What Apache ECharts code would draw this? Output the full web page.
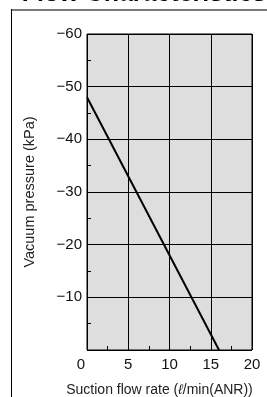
<!DOCTYPE html>
<html>
<head>
<meta charset="utf-8">
<script src="https://cdn.jsdelivr.net/npm/echarts@6/dist/echarts.min.js"></script>
<style>
html, body { margin: 0; padding: 0; background: #fff; }
#chart { width: 267px; height: 397px; }
</style>
</head>
<body>
<div id="chart"></div>
<script>
// data
var flowRate = [0, 16];        // l/min(ANR)
var pressure = [-48, 0];       // kPa
var xTicks = [0, 5, 10, 15, 20];
var yTicks = [-60, -50, -40, -30, -20, -10, 0];

var points = flowRate.map(function (x, i) { return [x, pressure[i]]; });

var dom = document.getElementById('chart');
var myChart = echarts.init(dom);

var option = {
    animation: false,
    title: {
        text: 'Flow Characteristics',
        left: 139,
        textAlign: 'center',
        top: -23,
        textStyle: { fontFamily: 'Liberation Sans', fontWeight: 'bold', fontSize: 25, color: '#000' }
    },
    // frame around the figure
    graphic: [
        { type: 'line', shape: { x1: 11, y1: 10, x2: 267, y2: 10 }, style: { stroke: '#7a7a7a', lineWidth: 2 } },
        { type: 'line', shape: { x1: 11.5, y1: 9, x2: 11.5, y2: 397 }, style: { stroke: '#000', lineWidth: 1 } }
    ],
    grid: {
        left: 87, top: 34, right: 15, bottom: 47,
        outerBoundsMode: 'none',
        show: true, backgroundColor: '#dedede', borderColor: '#000', borderWidth: 1
    },
    xAxis: {
        type: 'value',
        min: xTicks[0], max: xTicks[xTicks.length - 1], interval: 5,
        name: '{a|Suction flow rate (}{i|ℓ}{a|/min(ANR))}',
        nameLocation: 'middle',
        nameGap: 33,
        nameTextStyle: {
            padding: [0, 20, 0, 0],
            rich: {
                a: { fontFamily: 'Liberation Sans', fontSize: 14, color: '#222' },
                i: { fontFamily: 'Liberation Sans', fontSize: 14, color: '#222', fontStyle: 'italic' }
            }
        },
        axisLine: { show: false },
        axisTick: { show: false, inside: true },
        minorTick: { show: true, splitNumber: 2, length: 4, lineStyle: { color: '#000', width: 1 } },
        splitLine: { show: true, lineStyle: { color: '#000', width: 1 } },
        axisLabel: {
            margin: 7,
            fontFamily: 'Liberation Sans', fontSize: 15, color: '#111',
            formatter: function (v) { return v === 0 ? '{z|0}' : String(v); },
            rich: { z: { fontFamily: 'Liberation Sans', fontSize: 15, color: '#111', padding: [0, 12, 0, 0] } }
        }
    },
    yAxis: {
        type: 'value',
        min: yTicks[0], max: yTicks[yTicks.length - 1], interval: 10,
        inverse: true,
        name: 'Vacuum pressure (kPa)',
        nameLocation: 'middle',
        nameGap: 50,
        nameTextStyle: { fontFamily: 'Liberation Sans', fontSize: 14.5, color: '#222' },
        axisLine: { show: false },
        axisTick: { show: false, inside: true },
        minorTick: { show: true, splitNumber: 2, length: 4, lineStyle: { color: '#000', width: 1 } },
        splitLine: { show: true, lineStyle: { color: '#000', width: 1 } },
        axisLabel: {
            margin: 5,
            fontFamily: 'Liberation Sans', fontSize: 15, color: '#111',
            formatter: function (v) { return v === 0 ? '' : '\u2212' + Math.abs(v); }
        }
    },
    series: [{
        type: 'line',
        data: points,
        symbol: 'none',
        lineStyle: { color: '#000', width: 2 }
    }]
};

myChart.setOption(option);
</script>
</body>
</html>
